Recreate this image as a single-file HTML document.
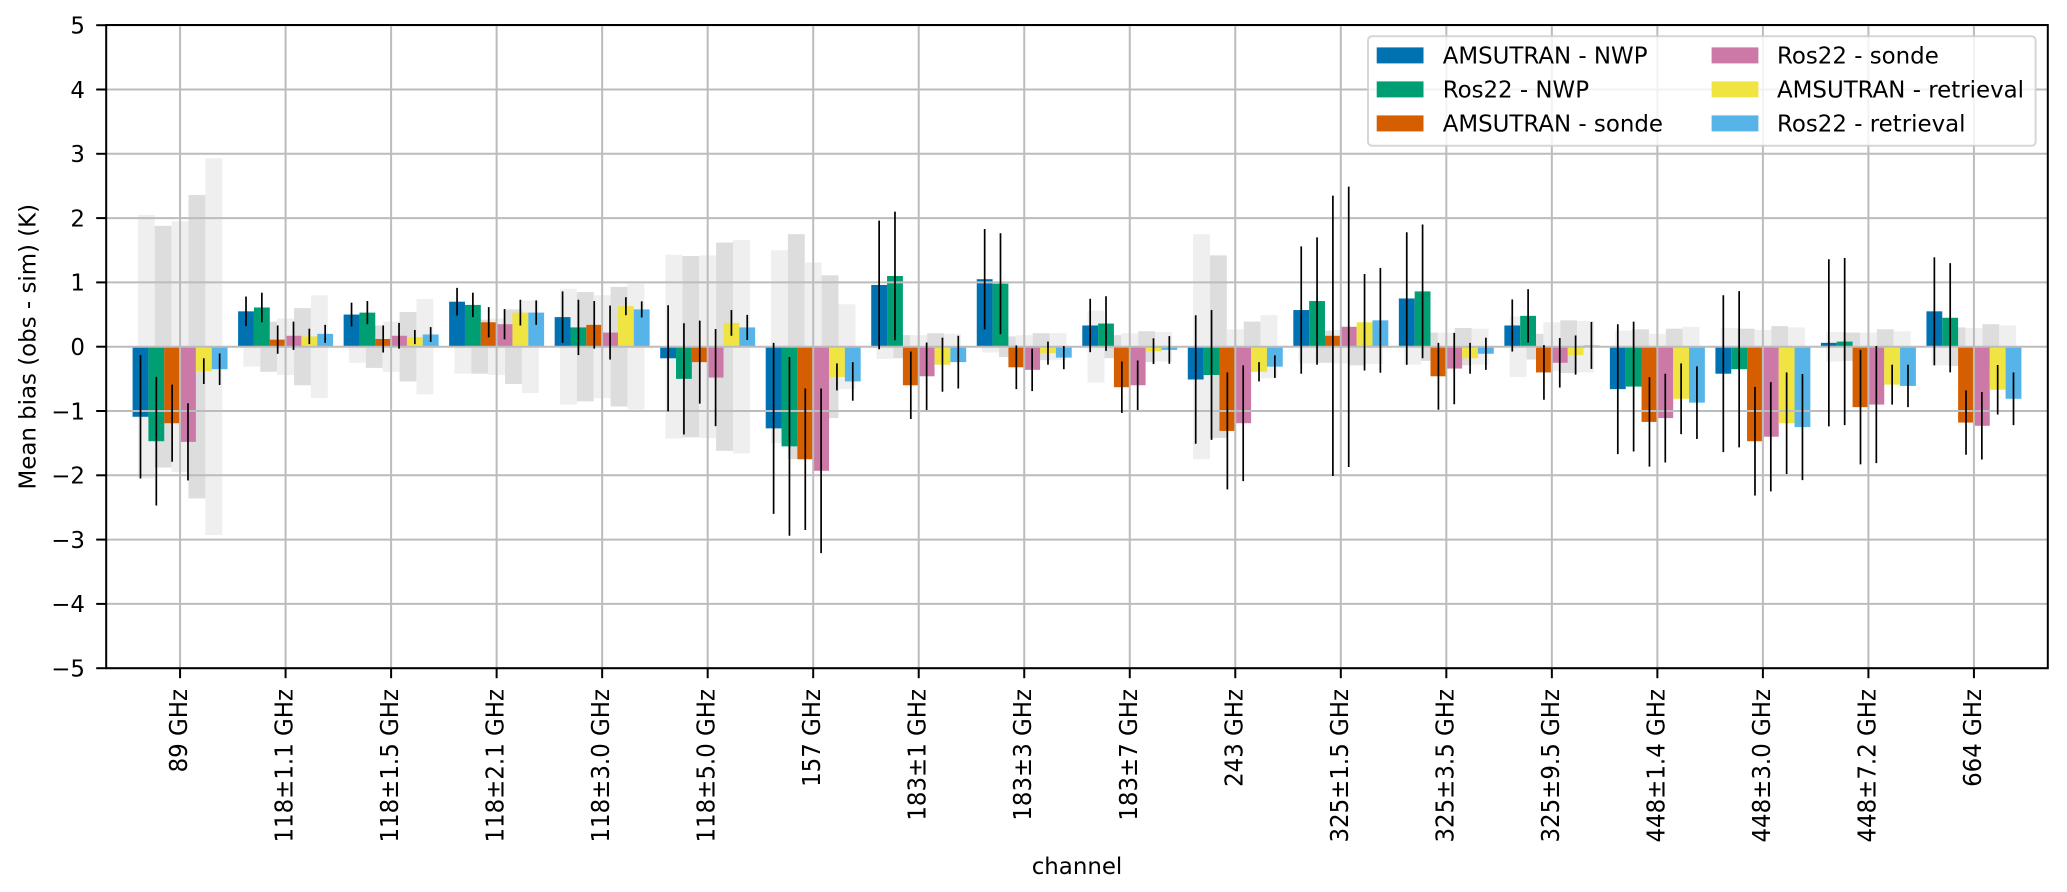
<!DOCTYPE html>
<html lang="en">
<head>
<meta charset="utf-8">
<title>Mean bias by channel</title>
<style>
html,body{margin:0;padding:0;background:#fff;}
svg{display:block;}
text{font-family:"DejaVu Sans","Liberation Sans",sans-serif;font-size:22.9px;fill:#000;}
</style>
</head>
<body>
<svg id="chart" xmlns="http://www.w3.org/2000/svg" width="2067" height="892" viewBox="0 0 2067 892">
  <rect x="0" y="0" width="2067" height="892" fill="#fff"/>
  <g id="spread-layer"></g>
  <g id="bar-layer"></g>
  <g id="grid-layer"></g>
  <g id="err-layer"></g>
  <g id="tick-layer"></g>
  <rect x="106.2" y="25" width="1941.6" height="643.2" fill="none" stroke="#000" stroke-width="2"/>
  <text transform="translate(35.5 346.7) rotate(-90)" text-anchor="middle">Mean bias (obs - sim) (K)</text>
  <text x="1077" y="874" text-anchor="middle">channel</text>
  <g id="legend">
    <rect x="1368" y="36.2" width="667.6" height="109.5" rx="4" ry="4" fill="#fff" fill-opacity="0.8" stroke="#ccc" stroke-opacity="0.8" stroke-width="2"/>
  </g>
</svg>
<script>
const channels = ["89 GHz","118±1.1 GHz","118±1.5 GHz","118±2.1 GHz","118±3.0 GHz","118±5.0 GHz","157 GHz","183±1 GHz","183±3 GHz","183±7 GHz","243 GHz","325±1.5 GHz","325±3.5 GHz","325±9.5 GHz","448±1.4 GHz","448±3.0 GHz","448±7.2 GHz","664 GHz"];
const yTicks = [-5,-4,-3,-2,-1,0,1,2,3,4,5];
const seriesNames = ["AMSUTRAN - NWP","Ros22 - NWP","AMSUTRAN - sonde","Ros22 - sonde","AMSUTRAN - retrieval","Ros22 - retrieval"];

const amsutranNwp = [-1.09,0.55,0.50,0.70,0.46,-0.18,-1.27,0.96,1.05,0.33,-0.51,0.57,0.75,0.33,-0.66,-0.42,0.06,0.55];
const ros22Nwp = [-1.47,0.61,0.53,0.65,0.30,-0.50,-1.55,1.10,0.98,0.36,-0.44,0.71,0.86,0.48,-0.62,-0.35,0.08,0.45];
const amsutranSonde = [-1.19,0.11,0.12,0.38,0.34,-0.24,-1.75,-0.60,-0.32,-0.63,-1.31,0.17,-0.46,-0.40,-1.17,-1.47,-0.94,-1.18];
const ros22Sonde = [-1.48,0.17,0.17,0.35,0.22,-0.48,-1.93,-0.46,-0.36,-0.60,-1.19,0.31,-0.34,-0.25,-1.11,-1.40,-0.90,-1.23];
const amsutranRetrieval = [-0.38,0.16,0.15,0.53,0.63,0.37,-0.47,-0.28,-0.10,-0.07,-0.39,0.38,-0.18,-0.13,-0.81,-1.19,-0.59,-0.67];
const ros22Retrieval = [-0.35,0.20,0.19,0.53,0.58,0.30,-0.54,-0.24,-0.17,-0.05,-0.31,0.41,-0.11,0.02,-0.87,-1.25,-0.61,-0.81];

const amsutranNwpErr = [0.96,0.23,0.185,0.215,0.40,0.825,1.33,1.00,0.78,0.415,1.00,0.99,1.03,0.405,1.01,1.22,1.30,0.84];
const ros22NwpErr = [1.00,0.23,0.18,0.19,0.43,0.865,1.39,1.00,0.785,0.425,1.01,0.99,1.04,0.415,1.01,1.215,1.30,0.85];
const amsutranSondeErr = [0.60,0.22,0.21,0.235,0.37,0.645,1.10,0.525,0.34,0.40,0.91,2.18,0.52,0.425,0.695,0.845,0.89,0.50];
const ros22SondeErr = [0.60,0.22,0.20,0.235,0.42,0.755,1.28,0.525,0.33,0.385,0.90,2.18,0.555,0.385,0.69,0.85,0.91,0.525];
const amsutranRetrievalErr = [0.20,0.12,0.11,0.20,0.14,0.20,0.21,0.42,0.18,0.20,0.15,0.75,0.24,0.305,0.55,0.79,0.31,0.385];
const ros22RetrievalErr = [0.245,0.14,0.115,0.19,0.125,0.195,0.30,0.41,0.18,0.215,0.175,0.815,0.25,0.365,0.565,0.825,0.33,0.41];

const spreadA = [2.05,0.31,0.25,0.42,0.90,1.43,1.50,0.19,0.09,0.56,1.75,0.26,0.28,0.47,0.25,0.29,0.23,0.29];
const spreadB = [1.88,0.39,0.33,0.42,0.85,1.41,1.75,0.18,0.16,0.18,1.42,0.25,0.22,0.20,0.27,0.28,0.22,0.30];
const spreadC = [1.95,0.44,0.39,0.44,0.80,1.42,1.31,0.18,0.18,0.21,0.27,0.26,0.22,0.38,0.20,0.26,0.22,0.29];
const spreadD = [2.36,0.60,0.54,0.58,0.93,1.62,1.11,0.21,0.21,0.24,0.39,0.29,0.29,0.41,0.28,0.32,0.27,0.35];
const spreadE = [2.93,0.80,0.74,0.72,0.98,1.66,0.66,0.20,0.21,0.23,0.49,0.27,0.28,0.40,0.31,0.30,0.24,0.33];

const seriesValues = [amsutranNwp,ros22Nwp,amsutranSonde,ros22Sonde,amsutranRetrieval,ros22Retrieval];
const seriesErrors = [amsutranNwpErr,ros22NwpErr,amsutranSondeErr,ros22SondeErr,amsutranRetrievalErr,ros22RetrievalErr];
const spreadValues = [spreadA,spreadB,spreadC,spreadD,spreadE];
const seriesColors = ["#0072B2","#009E73","#D55E00","#CC79A7","#F0E442","#56B4E9"];
const spreadColors = ["#efefef","#dddddd","#efefef","#dddddd","#efefef"];

const NS = "http://www.w3.org/2000/svg";
const plot = {left:106.2,right:2047.8,top:25.2,bottom:668.2};
const xMin = -0.7, xMax = 17.7, yMin = -5, yMax = 5;
const barWidth = 0.15, spreadWidth = 0.16;
const gridColor = "#bcbcbc";

function xScale(v){ return plot.left + (v - xMin) / (xMax - xMin) * (plot.right - plot.left); }
function yScale(v){ return plot.bottom - (v - yMin) / (yMax - yMin) * (plot.bottom - plot.top); }
function slug(s){ return s.toLowerCase().replace(/±/g,"-pm-").replace(/[^a-z0-9]+/g,"-"); }
function mk(tag, attrs, parent){
  const el = document.createElementNS(NS, tag);
  for (const k in attrs) el.setAttribute(k, attrs[k]);
  parent.appendChild(el);
  return el;
}

const spreadLayer = document.getElementById("spread-layer");
const barLayer = document.getElementById("bar-layer");
const gridLayer = document.getElementById("grid-layer");
const errLayer = document.getElementById("err-layer");
const tickLayer = document.getElementById("tick-layer");
const legend = document.getElementById("legend");

channels.forEach(function(ch, i){
  spreadValues.forEach(function(arr, s){
    const v = arr[i];
    const cx = i + (s - 2) * spreadWidth;
    const el = mk("rect", {
      x: xScale(cx - spreadWidth / 2),
      y: yScale(v),
      width: xScale(spreadWidth) - xScale(0),
      height: yScale(-v) - yScale(v),
      fill: spreadColors[s]
    }, spreadLayer);
    
    
  });
  seriesValues.forEach(function(arr, s){
    const v = arr[i];
    const cx = i + (s - 2.5) * barWidth;
    const el = mk("rect", {
      x: xScale(cx - barWidth / 2),
      y: Math.min(yScale(v), yScale(0)),
      width: xScale(barWidth) - xScale(0),
      height: Math.abs(yScale(v) - yScale(0)),
      fill: seriesColors[s]
    }, barLayer);
    
    
    const e = seriesErrors[s][i];
    const ln = mk("line", {
      x1: xScale(cx), x2: xScale(cx),
      y1: yScale(v + e), y2: yScale(v - e),
      stroke: "#000", "stroke-width": 1.7
    }, errLayer);
    
    
  });
  const gx = mk("line", {
    x1: xScale(i), x2: xScale(i), y1: plot.top, y2: plot.bottom,
    stroke: gridColor, "stroke-width": 2
  }, gridLayer);
  
  
  const tk = mk("line", {
    x1: xScale(i), x2: xScale(i), y1: plot.bottom, y2: plot.bottom + 10,
    stroke: "#000", "stroke-width": 2
  }, tickLayer);
  
  
  const lb = mk("text", {
    transform: "translate(" + (xScale(i) + 7) + " 689) rotate(-90) scale(1 1.07)",
    "text-anchor": "end"
  }, tickLayer);
  lb.textContent = ch;
  
  
});

yTicks.forEach(function(t){
  const gy = mk("line", {
    x1: plot.left, x2: plot.right, y1: yScale(t), y2: yScale(t),
    stroke: gridColor, "stroke-width": 2
  }, gridLayer);
  
  
  const tk = mk("line", {
    x1: plot.left - 10, x2: plot.left, y1: yScale(t), y2: yScale(t),
    stroke: "#000", "stroke-width": 2
  }, tickLayer);
  
  
  const lb = mk("text", {
    x: 85, y: yScale(t) + 8.3, "text-anchor": "end"
  }, tickLayer);
  lb.textContent = (t < 0 ? "\u2212" + Math.abs(t) : String(t));
  
  
});

seriesNames.forEach(function(name, s){
  const col = s < 3 ? 0 : 1;
  const row = s % 3;
  const hx = col === 0 ? 1376.7 : 1711.6;
  const tx = col === 0 ? 1442.7 : 1777;
  const hy = 47.4 + row * 34;
  const sw = mk("rect", { x: hx, y: hy, width: 46.8, height: 16, fill: seriesColors[s] }, legend);
  
  
  const tx1 = mk("text", { x: tx, y: hy + 16 }, legend);
  tx1.textContent = name;
  
  
});
</script>
</body>
</html>
